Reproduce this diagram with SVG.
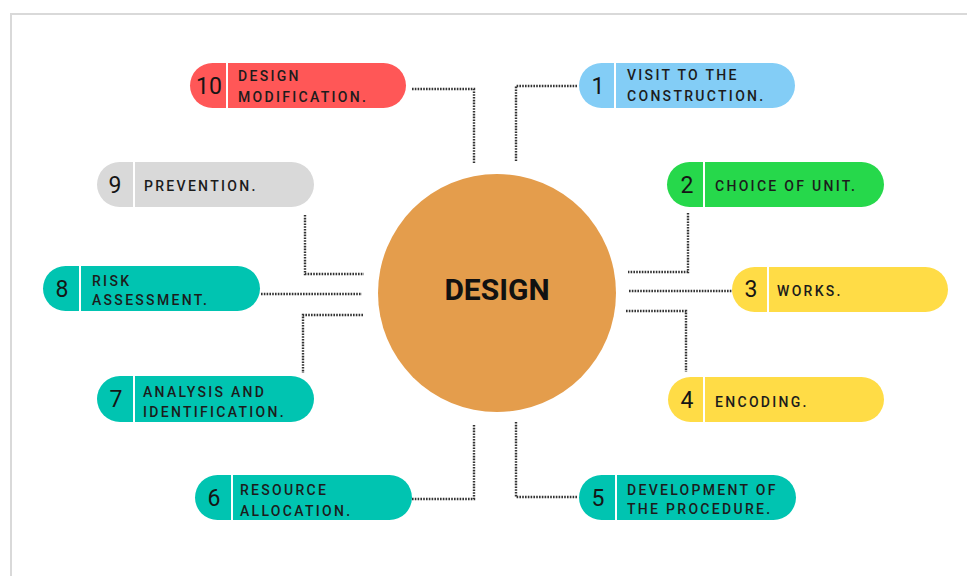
<svg xmlns="http://www.w3.org/2000/svg" width="967" height="576" viewBox="0 0 967 576">
  <style>
    .frame { fill: none; stroke: #d9d9d9; stroke-width: 2; }
    .pill-div { stroke: #ffffff; stroke-width: 2; }
    .num { font-family: Roboto, "Liberation Sans", sans-serif; font-size: 23px; font-weight: 400; fill: #151515; text-anchor: middle; }
    .lbl { font-family: Roboto, "Liberation Sans", sans-serif; font-size: 14px; font-weight: 500; letter-spacing: 2.3px; fill: #1c1c1c; }
    .link { fill: none; stroke: #333333; stroke-width: 2.4; stroke-dasharray: 1.6 1.2; }
    .hub-text { font-family: Roboto, "Liberation Sans", sans-serif; font-size: 30px; font-weight: 700; fill: #111111; text-anchor: middle; }
  </style>

  <rect width="967" height="576" fill="#ffffff"/>
  <path class="frame" d="M11,577 V14 H968"/>

  <!-- dotted connectors between the hub and each step -->
  <g id="connectors">
    <path class="link" d="M412,89 H474 V164"/>
    <path class="link" d="M516,161 V86 H577"/>
    <path class="link" d="M305,215 V274 H364"/>
    <path class="link" d="M261,294 H362"/>
    <path class="link" d="M363,315 H303 V373"/>
    <path class="link" d="M474,425 V499 H412"/>
    <path class="link" d="M516,422 V497 H578"/>
    <path class="link" d="M688,213 V272 H628"/>
    <path class="link" d="M629,291 H732"/>
    <path class="link" d="M626,311 H686 V372"/>
  </g>

  <!-- central hub -->
  <g id="hub">
    <circle cx="497" cy="293" r="119" fill="#e49d4c"/>
    <text class="hub-text" x="497" y="300">DESIGN</text>
  </g>

  <!-- step 1 -->
  <g id="step1">
    <rect x="579" y="63" width="216" height="45" rx="22.5" fill="#83cdf6"/>
    <line class="pill-div" x1="615" y1="63" x2="615" y2="108"/>
    <text class="num" x="598" y="94">1</text>
    <text class="lbl" x="627" y="80">VISIT TO THE</text>
    <text class="lbl" x="627" y="101">CONSTRUCTION.</text>
  </g>

  <!-- step 2 -->
  <g id="step2">
    <rect x="667" y="162" width="217" height="45" rx="22.5" fill="#26d84b"/>
    <line class="pill-div" x1="704" y1="162" x2="704" y2="207"/>
    <text class="num" x="687" y="193">2</text>
    <text class="lbl" x="715" y="191">CHOICE OF UNIT.</text>
  </g>

  <!-- step 3 -->
  <g id="step3">
    <rect x="732" y="267" width="216" height="45" rx="22.5" fill="#ffdc46"/>
    <line class="pill-div" x1="768" y1="267" x2="768" y2="312"/>
    <text class="num" x="751" y="297">3</text>
    <text class="lbl" x="777" y="296">WORKS.</text>
  </g>

  <!-- step 4 -->
  <g id="step4">
    <rect x="668" y="377" width="216" height="45" rx="22.5" fill="#ffdc46"/>
    <line class="pill-div" x1="704" y1="377" x2="704" y2="422"/>
    <text class="num" x="687" y="408">4</text>
    <text class="lbl" x="715" y="407">ENCODING.</text>
  </g>

  <!-- step 5 -->
  <g id="step5">
    <rect x="579" y="475" width="217" height="45" rx="22.5" fill="#00c4b1"/>
    <line class="pill-div" x1="616" y1="475" x2="616" y2="520"/>
    <text class="num" x="598" y="506">5</text>
    <text class="lbl" x="627" y="495">DEVELOPMENT OF</text>
    <text class="lbl" x="627" y="514">THE PROCEDURE.</text>
  </g>

  <!-- step 6 -->
  <g id="step6">
    <rect x="195" y="475" width="217" height="45" rx="22.5" fill="#00c4b1"/>
    <line class="pill-div" x1="232" y1="475" x2="232" y2="520"/>
    <text class="num" x="214" y="506">6</text>
    <text class="lbl" x="240" y="495">RESOURCE</text>
    <text class="lbl" x="240" y="516">ALLOCATION.</text>
  </g>

  <!-- step 7 -->
  <g id="step7">
    <rect x="97" y="376" width="217" height="46" rx="23" fill="#00c4b1"/>
    <line class="pill-div" x1="134" y1="376" x2="134" y2="422"/>
    <text class="num" x="116" y="407">7</text>
    <text class="lbl" x="143" y="397">ANALYSIS AND</text>
    <text class="lbl" x="143" y="417">IDENTIFICATION.</text>
  </g>

  <!-- step 8 -->
  <g id="step8">
    <rect x="43" y="266" width="217" height="45" rx="22.5" fill="#00c4b1"/>
    <line class="pill-div" x1="80" y1="266" x2="80" y2="311"/>
    <text class="num" x="62" y="297">8</text>
    <text class="lbl" x="92" y="286">RISK</text>
    <text class="lbl" x="92" y="305">ASSESSMENT.</text>
  </g>

  <!-- step 9 -->
  <g id="step9">
    <rect x="97" y="162" width="217" height="45" rx="22.5" fill="#d9d9d9"/>
    <line class="pill-div" x1="134" y1="162" x2="134" y2="207"/>
    <text class="num" x="115" y="193">9</text>
    <text class="lbl" x="144" y="191">PREVENTION.</text>
  </g>

  <!-- step 10 -->
  <g id="step10">
    <rect x="190" y="63" width="216" height="45" rx="22.5" fill="#ff5757"/>
    <line class="pill-div" x1="227" y1="63" x2="227" y2="108"/>
    <text class="num" x="209" y="94">10</text>
    <text class="lbl" x="238" y="81">DESIGN</text>
    <text class="lbl" x="238" y="102">MODIFICATION.</text>
  </g>
</svg>
